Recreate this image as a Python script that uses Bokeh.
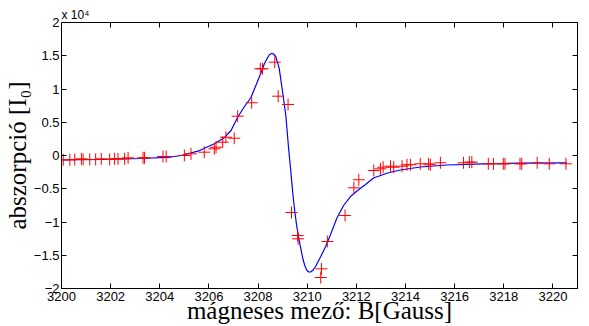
from bokeh.plotting import figure
from bokeh.models import Range1d, LinearAxis, FixedTicker
from bokeh.embed import file_html
from bokeh.resources import INLINE

# measured points (red crosses)
meas_x = [3200.07, 3200.34, 3200.54, 3200.81, 3200.88, 3201.15, 3201.39, 3201.62, 3201.96,
          3202.16, 3202.30, 3202.57, 3202.71, 3203.32, 3203.38, 3204.13, 3204.26, 3205.00,
          3205.27, 3205.81, 3206.22, 3206.29, 3206.56, 3206.69, 3207.03, 3207.17, 3207.74,
          3208.09, 3208.18, 3208.68, 3208.82, 3209.22, 3209.36, 3209.61, 3209.63, 3210.55,
          3210.58, 3210.82, 3211.54, 3211.90, 3212.10, 3212.71, 3212.98, 3213.09, 3213.39,
          3213.52, 3213.86, 3214.06, 3214.20, 3214.60, 3214.94, 3215.01, 3215.42, 3216.36,
          3216.60, 3216.70, 3217.37, 3217.58, 3217.98, 3218.05, 3218.66, 3218.73, 3219.36,
          3219.85, 3220.53]
meas_y = [-650, -650, -600, -500, -600, -600, -600, -500, -600,
          -500, -500, -500, -350, -350, -350, -150, -150, 0,
          250, 500, 1010, 1250, 2000, 2750, 2600, 5910, 7930,
          13040, 13040, 14030, 8920, 7670, -8570, -12030, -12530, -18350,
          -17040, -12930, -9020, -4860, -3650, -2260, -2000, -1760, -1610,
          -1760, -1610, -1400, -1400, -1250, -1250, -1400, -1100, -1100,
          -1000, -1000, -1250, -1250, -1250, -1250, -1250, -1250, -1100,
          -1250, -1250]

# fitted curve (blue line)
fit_x = [3200.00, 3201.62, 3203.25, 3204.46, 3204.87, 3205.55, 3206.22, 3206.62, 3206.90,
         3207.17, 3207.42, 3207.71, 3207.91, 3208.11, 3208.26, 3208.39, 3208.47, 3208.55,
         3208.63, 3208.72, 3208.86, 3208.99, 3209.13, 3209.25, 3209.33, 3209.41, 3209.49,
         3209.57, 3209.66, 3209.74, 3209.82, 3209.90, 3209.98, 3210.06, 3210.14, 3210.22,
         3210.34, 3210.55, 3210.75, 3210.95, 3211.20, 3211.48, 3211.76, 3212.05, 3212.37,
         3212.70, 3213.27, 3213.79, 3214.60, 3215.70, 3217.16, 3218.54, 3220.57]
fit_y = [-680, -600, -450, -230, 0, 650, 1760, 2660, 3760,
         5760, 7220, 8720, 10530, 12330, 13840, 14740, 15190, 15340,
         15270, 14890, 13090, 9780, 6020, 750, -2260, -5570, -8270,
         -10530, -12480, -13990, -15490, -16540, -17220, -17520, -17520, -17300,
         -16690, -15190, -13690, -11880, -9480, -7520, -6170, -5260, -4360,
         -3380, -2630, -2180, -1730, -1430, -1250, -1160, -1100]

x_ticks = [3200, 3202, 3204, 3206, 3208, 3210, 3212, 3214, 3216, 3218, 3220]
y_ticks = [-20000, -15000, -10000, -5000, 0, 5000, 10000, 15000, 20000]
y_tick_labels = ["\u22122", "\u22121.5", "\u22121", "\u22120.5", "0", "0.5", "1", "1.5", "2"]

x_label = "mágneses mező: B[Gauss]"
y_label = "abszorpció [I\u2080]"
exp_label = "x 10\u2074"

p = figure(width=589, height=326, output_backend="svg", toolbar_location=None,
           x_range=Range1d(3200, 3221), y_range=Range1d(-20000, 20000),
           x_axis_type=None, y_axis_type=None)
p.min_border = 0
p.min_border_left = 60
p.min_border_right = 12
p.min_border_top = 22
p.min_border_bottom = 38
p.background_fill_color = "white"
p.border_fill_color = "white"
p.outline_line_color = "black"
p.outline_line_width = 1
p.xgrid.visible = False
p.ygrid.visible = False

def style(ax, labels=True):
    ax.major_tick_in = 5
    ax.major_tick_out = 0
    ax.minor_tick_line_color = None
    ax.axis_line_color = "black"
    ax.major_tick_line_color = "black"
    ax.major_label_text_color = "black"
    ax.major_label_text_font = "Liberation Sans"
    ax.major_label_text_font_size = "13px" if labels else "1px"
    ax.major_label_standoff = 3 if labels else 0
    ax.axis_label_text_font = "Liberation Serif"
    ax.axis_label_text_font_size = "25px"
    ax.axis_label_text_font_style = "normal"
    ax.axis_label_text_color = "black"

bx = LinearAxis(ticker=FixedTicker(ticks=x_ticks), axis_label=x_label)
style(bx)
bx.major_label_overrides = {t: str(t) for t in x_ticks}
bx.axis_label_standoff = -7
p.add_layout(bx, "below")

tx = LinearAxis(ticker=FixedTicker(ticks=x_ticks))
style(tx, labels=False)
tx.major_label_overrides = {t: "" for t in x_ticks}
p.add_layout(tx, "above")

ly = LinearAxis(ticker=FixedTicker(ticks=y_ticks), axis_label=y_label)
style(ly)
ly.major_label_overrides = dict(zip(y_ticks, y_tick_labels))
ly.major_label_standoff = 2
ly.axis_label_standoff = 0
p.add_layout(ly, "left")

ry = LinearAxis(ticker=FixedTicker(ticks=y_ticks))
style(ry, labels=False)
ry.major_label_overrides = {t: "" for t in y_ticks}
p.add_layout(ry, "right")

p.title.text = exp_label
p.title.align = "left"
p.title.text_font = "Liberation Sans"
p.title.text_font_size = "12px"
p.title.text_font_style = "normal"
p.title.text_color = "black"
p.title.standoff = 1
p.title_location = "above"

p.line(fit_x, fit_y, line_color="blue", line_width=1.2)
p.scatter(meas_x, meas_y, marker="cross", size=12, line_color="red", line_width=1)

open("out.html", "w").write(file_html(p, INLINE))
